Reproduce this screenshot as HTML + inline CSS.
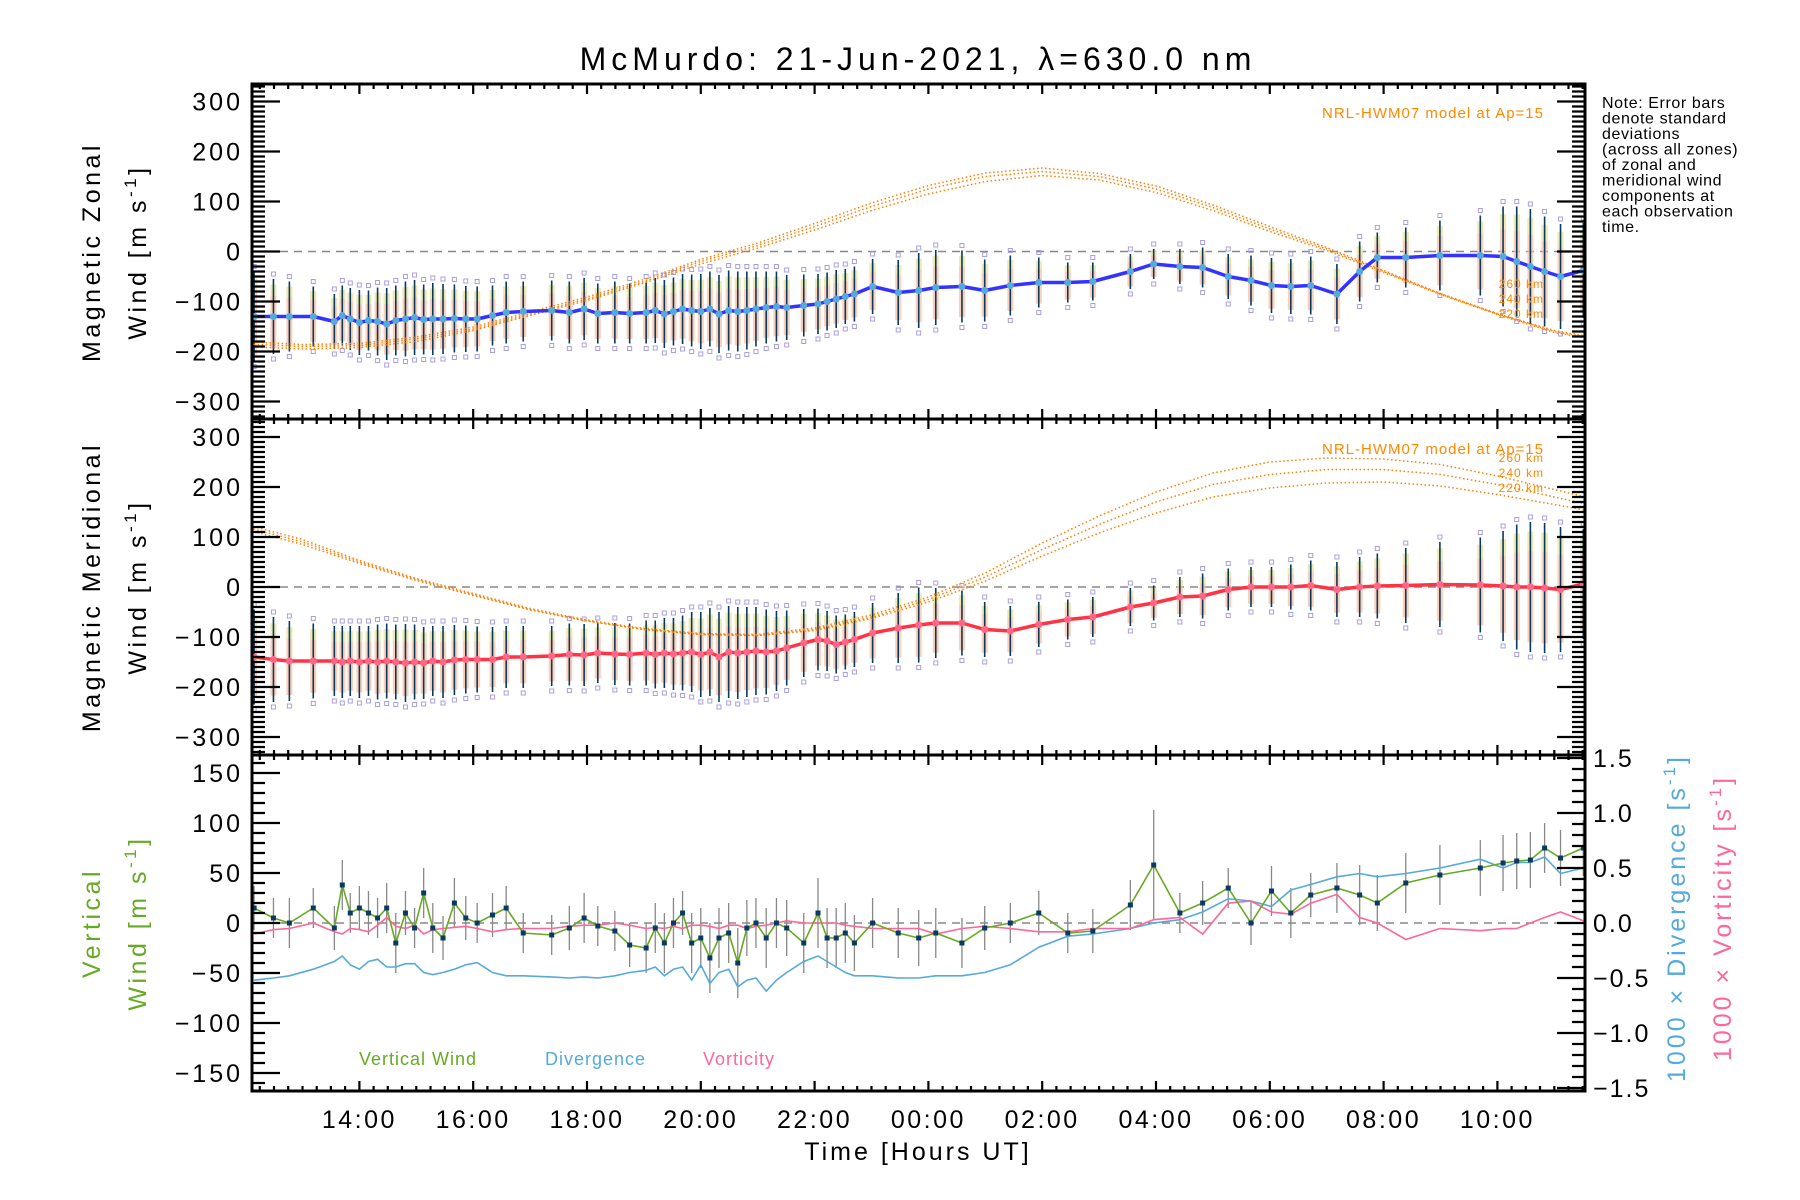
<!DOCTYPE html>
<html><head><meta charset="utf-8">
<style>
html,body{margin:0;padding:0;background:#fff;}
svg{display:block;font-family:"Liberation Sans",sans-serif;}
</style></head>
<body>
<svg id="chart" width="1800" height="1200" viewBox="0 0 1800 1200" xmlns="http://www.w3.org/2000/svg">
<defs>
<clipPath id="c1"><rect x="252" y="84" width="1333" height="335"/></clipPath>
<clipPath id="c2"><rect x="252" y="419" width="1333" height="336"/></clipPath>
<clipPath id="c3"><rect x="252" y="755" width="1333" height="336"/></clipPath>
</defs>
<text x="918" y="70" font-size="32" letter-spacing="5" text-anchor="middle">McMurdo: 21-Jun-2021, λ=630.0 nm</text>
<g id="marks"></g>
<g id="axes"></g>
<g font-size="25" letter-spacing="3.5">
<text transform="translate(100,252) rotate(-90)" text-anchor="middle">Magnetic  Zonal</text>
<text transform="translate(146,252) rotate(-90)" text-anchor="middle">Wind [m s<tspan font-size="17" dy="-10">-1</tspan><tspan dy="10">]</tspan></text>
</g>
<g font-size="25" letter-spacing="3.5">
<text transform="translate(100,587) rotate(-90)" text-anchor="middle">Magnetic  Meridional</text>
<text transform="translate(146,587) rotate(-90)" text-anchor="middle">Wind [m s<tspan font-size="17" dy="-10">-1</tspan><tspan dy="10">]</tspan></text>
</g>
<g font-size="25" letter-spacing="3.5" fill="#66aa22">
<text transform="translate(100,923) rotate(-90)" text-anchor="middle">Vertical</text>
<text transform="translate(146,923) rotate(-90)" text-anchor="middle">Wind [m s<tspan font-size="17" dy="-10">-1</tspan><tspan dy="10">]</tspan></text>
</g>
<text transform="translate(1685,918) rotate(-90)" text-anchor="middle" font-size="25" letter-spacing="3" fill="#55aadd">1000 × Divergence [s<tspan font-size="17" dy="-10">-1</tspan><tspan dy="10">]</tspan></text>
<text transform="translate(1731,918) rotate(-90)" text-anchor="middle" font-size="25" letter-spacing="3" fill="#ff6699">1000 × Vorticity [s<tspan font-size="17" dy="-10">-1</tspan><tspan dy="10">]</tspan></text>
<text x="918" y="1160" font-size="25" letter-spacing="3" text-anchor="middle">Time [Hours UT]</text>
<g font-size="16" letter-spacing="0.6">
<text x="1602" y="108">Note: Error bars</text>
<text x="1602" y="123.5">denote standard</text>
<text x="1602" y="139">deviations</text>
<text x="1602" y="154.5">(across all zones)</text>
<text x="1602" y="170">of zonal and</text>
<text x="1602" y="185.5">meridional wind</text>
<text x="1602" y="201">components at</text>
<text x="1602" y="216.5">each observation</text>
<text x="1602" y="232">time.</text>
</g>
<g font-size="15" fill="#ff8800" letter-spacing="1">
<text x="1544" y="118" text-anchor="end">NRL-HWM07 model at Ap=15</text>
<text x="1544" y="288" text-anchor="end" font-size="12">260 km</text>
<text x="1544" y="303" text-anchor="end" font-size="12">240 km</text>
<text x="1544" y="318" text-anchor="end" font-size="12">220 km</text>
<text x="1544" y="454" text-anchor="end">NRL-HWM07 model at Ap=15</text>
<text x="1544" y="462" text-anchor="end" font-size="12">260 km</text>
<text x="1544" y="477" text-anchor="end" font-size="12">240 km</text>
<text x="1544" y="492" text-anchor="end" font-size="12">220 km</text>
</g>
<g font-size="18" letter-spacing="1">
<text x="359" y="1065" fill="#66aa22">Vertical Wind</text>
<text x="545" y="1065" fill="#55aadd">Divergence</text>
<text x="703" y="1065" fill="#ff6699">Vorticity</text>
</g>
</svg>
<script>
// ---------- data ----------
const times = [12.15,12.49,12.77,13.19,13.56,13.70,13.84,14.00,14.16,14.32,14.48,14.64,14.81,14.97,15.13,15.29,15.47,15.67,15.87,16.07,16.34,16.58,16.88,17.38,17.69,17.95,18.19,18.49,18.75,19.04,19.20,19.36,19.52,19.68,19.84,20.00,20.16,20.32,20.49,20.65,20.81,20.97,21.15,21.33,21.51,21.81,22.06,22.22,22.38,22.54,22.70,23.02,23.47,23.83,24.13,24.59,24.99,25.44,25.94,26.45,26.89,27.55,27.96,28.42,28.82,29.27,29.67,30.03,30.37,30.72,31.18,31.58,31.89,32.39,32.99,33.70,34.10,34.34,34.58,34.83,35.11,35.51];
const zonal = [-130,-130,-130,-130,-140,-128,-135,-142,-138,-140,-145,-138,-135,-132,-136,-135,-135,-134,-135,-135,-128,-122,-120,-118,-122,-115,-124,-122,-124,-122,-118,-125,-120,-115,-118,-120,-115,-125,-118,-120,-118,-115,-112,-110,-112,-108,-105,-100,-95,-90,-85,-70,-82,-78,-72,-70,-78,-68,-62,-62,-60,-40,-25,-30,-32,-50,-58,-68,-70,-68,-85,-40,-12,-12,-8,-8,-10,-20,-30,-40,-50,-38];
const zonalSd = [90,75,70,60,55,60,62,65,60,68,72,70,75,75,70,72,70,68,66,65,60,62,60,60,62,62,60,62,60,62,65,68,68,70,72,75,75,78,80,80,78,75,72,70,65,62,60,58,58,55,55,55,65,75,75,72,62,60,50,40,38,35,30,35,40,45,50,55,55,58,60,60,50,60,70,80,100,110,115,110,105,95];
const merid = [-140,-145,-148,-148,-148,-150,-148,-150,-148,-150,-148,-150,-152,-150,-152,-148,-150,-146,-145,-145,-145,-140,-140,-138,-135,-136,-132,-134,-135,-132,-135,-132,-134,-132,-130,-135,-130,-140,-130,-132,-130,-128,-130,-128,-122,-112,-105,-108,-115,-110,-105,-92,-82,-76,-72,-72,-85,-88,-75,-65,-60,-40,-32,-20,-18,-5,0,0,0,3,-5,0,2,3,5,4,2,0,0,-2,-5,6];
const meridSd = [95,85,80,75,70,72,70,72,70,75,75,75,78,75,72,70,72,70,68,66,65,62,62,60,62,62,60,62,62,65,68,70,72,75,80,85,88,90,92,92,90,88,85,80,75,68,62,60,58,55,55,60,70,75,70,65,55,50,45,40,40,38,35,40,45,42,40,40,45,50,55,60,65,75,85,95,110,125,130,130,125,110];
const vert = [15,5,0,15,-5,38,10,15,10,5,15,-20,10,-5,30,-5,-15,20,5,0,8,15,-10,-12,-5,5,-3,-8,-22,-25,-5,-20,0,10,-20,-15,-35,-15,-10,-40,-5,0,-15,0,-5,-20,10,-15,-15,-10,-20,0,-10,-15,-10,-20,-5,0,10,-10,-8,18,58,10,20,35,0,32,10,28,35,28,20,40,48,55,60,62,63,75,65,75];
const vertSd = [22,20,25,20,22,25,20,22,22,20,25,30,22,20,25,25,22,25,22,20,22,22,20,20,22,25,20,20,22,25,25,30,25,22,30,30,35,30,30,35,28,25,30,25,28,30,35,30,30,30,28,25,25,28,25,25,22,20,22,20,22,25,55,20,22,20,22,25,25,22,25,30,28,30,30,28,28,28,28,25,28,28];
const div = [-0.52,-0.50,-0.48,-0.42,-0.35,-0.30,-0.38,-0.42,-0.35,-0.33,-0.40,-0.40,-0.37,-0.37,-0.45,-0.47,-0.45,-0.42,-0.38,-0.36,-0.45,-0.48,-0.48,-0.49,-0.50,-0.49,-0.50,-0.48,-0.45,-0.43,-0.40,-0.48,-0.42,-0.40,-0.52,-0.38,-0.55,-0.45,-0.42,-0.58,-0.52,-0.50,-0.62,-0.52,-0.45,-0.35,-0.30,-0.35,-0.40,-0.45,-0.48,-0.48,-0.50,-0.50,-0.48,-0.48,-0.45,-0.38,-0.22,-0.12,-0.10,-0.05,0.00,0.03,0.10,0.22,0.20,0.15,0.30,0.35,0.42,0.45,0.42,0.45,0.50,0.58,0.50,0.55,0.55,0.60,0.45,0.50];
const vort = [-0.10,-0.06,-0.05,0.00,-0.08,-0.10,-0.05,-0.06,-0.08,-0.02,0.05,-0.03,-0.05,-0.02,-0.10,-0.06,-0.05,-0.04,-0.03,-0.05,-0.08,-0.06,-0.05,-0.05,-0.03,-0.02,-0.02,0.00,-0.02,-0.05,-0.04,-0.05,-0.03,-0.05,-0.02,-0.02,-0.03,-0.05,-0.02,-0.02,-0.05,-0.03,-0.02,0.00,0.02,0.00,0.00,0.00,0.00,-0.02,-0.03,-0.05,-0.05,-0.05,-0.10,-0.05,-0.03,-0.05,-0.08,-0.08,-0.05,-0.05,0.03,0.05,-0.10,0.18,0.20,0.10,0.08,0.18,0.26,0.05,0.00,-0.15,-0.05,-0.07,-0.05,-0.05,0.00,0.05,0.10,0.02];
const hwmHours = [12,13,14,15,16,17,18,19,20,21,22,23,24,25,26,27,28,29,30,31,32,33,34,35,36];
const hwmZonal220 = [-190,-195,-192,-180,-158,-128,-98,-63,-25,7,43,82,115,140,152,143,118,82,40,2,-42,-86,-126,-162,-182];
const hwmZonal240 = [-185,-190,-188,-175,-155,-125,-95,-60,-20,12,50,90,125,150,160,150,125,88,45,5,-40,-85,-125,-160,-180];
const hwmZonal260 = [-180,-186,-184,-171,-151,-121,-91,-56,-16,17,56,97,132,157,167,156,131,93,50,8,-38,-84,-124,-158,-178];
const hwmMerid220 = [115,85,47,13,-17,-46,-68,-85,-95,-97,-87,-63,-30,12,62,108,148,180,198,208,210,202,185,165,145];
const hwmMerid240 = [120,90,50,15,-15,-45,-68,-85,-95,-97,-85,-60,-25,20,75,125,170,205,225,235,235,225,205,180,155];
const hwmMerid260 = [125,95,53,17,-13,-43,-66,-83,-93,-95,-82,-56,-20,28,88,142,190,228,250,258,256,245,222,195,168];
const xTickHours = [14,16,18,20,22,24,26,28,30,32,34];
const xTickLabels = ["14:00","16:00","18:00","20:00","22:00","00:00","02:00","04:00","06:00","08:00","10:00"];
const windTicks = [-300,-200,-100,0,100,200,300];
const vertTicks = [-150,-100,-50,0,50,100,150];
const rightTicks = [-1.5,-1.0,-0.5,0.0,0.5,1.0,1.5];

// ---------- scales ----------
const X0=252,X1=1585,T0=12.113,T1=35.54;
function xs(h){return X0+(h-T0)/(T1-T0)*(X1-X0);}
const P1={top:84,bot:419,min:-335,max:335};
const P2={top:419,bot:755,min:-336,max:336};
const P3={top:755,bot:1091,min:-168,max:168};
const R3={min:-1.527,max:1.527};
function ys(p,v){return p.bot-(v-p.min)/(p.max-p.min)*(p.bot-p.top);}
const NS="http://www.w3.org/2000/svg";
const marks=document.getElementById('marks');
const axes=document.getElementById('axes');
function mk(tag,parent,attrs){const e=document.createElementNS(NS,tag);for(const k in attrs)e.setAttribute(k,attrs[k]);parent.appendChild(e);return e;}
function R3Panel(){return {top:P3.top,bot:P3.bot,min:R3.min,max:R3.max};}
function polyPts(xsArr,ysArr,p){return xsArr.map((t,i)=>xs(t).toFixed(1)+','+ys(p,ysArr[i]).toFixed(1)).join(' ');}

// ---------- wind panels ----------
function windPanel(p,clip,mean,sd,h220,h240,h260,lineCol,dotCol,nm){
  const g=mk('g',marks,{'clip-path':'url(#'+clip+')'});
  
  
  const z=mk('line',g,{x1:X0,x2:X1,y1:ys(p,0),y2:ys(p,0),stroke:'#888','stroke-width':1.5,'stroke-dasharray':'8,6'});
  
  
  times.forEach((t,i)=>{
    const x=xs(t);
    const r=mk('rect',g,{x:x-3,y:ys(p,mean[i]+sd[i]*0.85),width:6,height:ys(p,mean[i]-sd[i]*0.85)-ys(p,mean[i]+sd[i]*0.85),fill:'#fbbfa0',opacity:0.75});
    
    
    const r2=mk('rect',g,{x:x-3,y:ys(p,mean[i]+sd[i]*0.85),width:6,height:ys(p,mean[i]+sd[i]*0.55)-ys(p,mean[i]+sd[i]*0.85),fill:'#e8f0b0',opacity:0.8});
    
    
    [1,-1].forEach(s=>{
      const q=mk('rect',g,{x:x-2,y:ys(p,mean[i]+s*(sd[i]+10))-2,width:4,height:4,fill:'none',stroke:'#a8a0dd','stroke-width':1});
      
      
    });
    const e=mk('line',g,{x1:x,x2:x,y1:ys(p,mean[i]+sd[i]),y2:ys(p,mean[i]-sd[i]),stroke:'#0a3a60','stroke-width':1.6});
    
    
  });
  [h220,h240,h260].forEach((arr,k)=>{
    const c=mk('polyline',g,{points:polyPts(hwmHours,arr,p),fill:'none',stroke:'#ff8000','stroke-width':1.5,'stroke-dasharray':'1.5,2.5'});
    
    
  });
  const l=mk('polyline',g,{points:polyPts(times,mean,p),fill:'none',stroke:lineCol,'stroke-width':3.5,'stroke-linejoin':'round'});
  
  
  times.forEach((t,i)=>{
    const d=mk('circle',g,{cx:xs(t),cy:ys(p,mean[i]),r:3.5,fill:dotCol});
    
    
  });
}
windPanel(P1,'c1',zonal,zonalSd,hwmZonal220,hwmZonal240,hwmZonal260,'#3333ff','#55aadd','zonal');
windPanel(P2,'c2',merid,meridSd,hwmMerid220,hwmMerid240,hwmMerid260,'#ff3344','#ff6688','meridional');

// ---------- vertical panel ----------
(function(){
  const p=P3;
  const g=mk('g',marks,{'clip-path':'url(#c3)'});
  
  
  const z=mk('line',g,{x1:X0,x2:X1,y1:ys(p,0),y2:ys(p,0),stroke:'#888','stroke-width':1.5,'stroke-dasharray':'8,6'});
  
  
  times.forEach((t,i)=>{
    const e=mk('line',g,{x1:xs(t),x2:xs(t),y1:ys(p,vert[i]+vertSd[i]),y2:ys(p,vert[i]-vertSd[i]),stroke:'#888','stroke-width':1.3});
    
    
  });
  const dv=mk('polyline',g,{points:polyPts(times,div,R3Panel()),fill:'none',stroke:'#55aadd','stroke-width':1.6});
  
  
  const vo=mk('polyline',g,{points:polyPts(times,vort,R3Panel()),fill:'none',stroke:'#ff6699','stroke-width':1.6});
  
  
  const vl=mk('polyline',g,{points:polyPts(times,vert,p),fill:'none',stroke:'#66aa22','stroke-width':1.6});
  
  
  times.forEach((t,i)=>{
    const s=mk('rect',g,{x:xs(t)-2.5,y:ys(p,vert[i])-2.5,width:5,height:5,fill:'#0a3a60'});
    
    
  });
})();

// ---------- axes ----------
function drawFrame(p,ticks,minorStep,rightTk,nm){
  const g=mk('g',axes,{});
  
  
  let d='';
  for(let v=Math.ceil(p.min/minorStep)*minorStep; v<=p.max; v+=minorStep){
    const y=ys(p,v).toFixed(1);
    d+='M'+X0+','+y+'h13 ';
    if(!rightTk) d+='M'+X1+','+y+'h-13 ';
  }
  ticks.forEach(v=>{const y=ys(p,v).toFixed(1);d+='M'+X0+','+y+'h28 ';if(!rightTk)d+='M'+X1+','+y+'h-28 ';});
  for(let h=12.25; h<T1; h+=0.25){
    const x=xs(h).toFixed(1);
    const major=Math.abs(h%2)<1e-6;
    const L=major?10:5;
    d+='M'+x+','+p.bot+'v-'+L+' M'+x+','+p.top+'v'+L+' ';
  }
  if(rightTk){
    const rp=R3Panel();
    for(let v=-1.5; v<=1.5001; v+=0.1){d+='M'+X1+','+ys(rp,v).toFixed(1)+'h-13 ';}
    rightTk.forEach(v=>{d+='M'+X1+','+ys(rp,v).toFixed(1)+'h-28 ';});
  }
  const tp=mk('path',g,{d:d,stroke:'#000','stroke-width':2.2,fill:'none'});
  
  
  const fr=mk('rect',g,{x:X0,y:p.top,width:X1-X0,height:p.bot-p.top,fill:'none',stroke:'#000','stroke-width':3});
  
  
  ticks.forEach(v=>{
    const y=ys(p,v);
    if(y<p.top-2||y>p.bot+2) return;
    const t=mk('text',g,{x:243,y:y+9,'font-size':25,'text-anchor':'end','letter-spacing':3});
    t.textContent=(v<0?'\u2212'+(-v):String(v));
    
    
  });
  if(rightTk){
    const rp=R3Panel();
    rightTk.forEach(v=>{
      const t=mk('text',g,{x:1593,y:ys(rp,v)+9,'font-size':25,'text-anchor':'start','letter-spacing':2});
      t.textContent=(v<0?'\u2212':'')+Math.abs(v).toFixed(1);
      
      
    });
  }
}
drawFrame(P1,windTicks,10,null,'zonal');
drawFrame(P2,windTicks,10,null,'meridional');
drawFrame(P3,vertTicks,10,rightTicks,'vertical');
xTickHours.forEach((h,i)=>{
  const t=mk('text',axes,{x:xs(h),y:1128,'font-size':25,'text-anchor':'middle','letter-spacing':2.5});
  t.textContent=xTickLabels[i];
  
  
});
</script>
</body></html>
